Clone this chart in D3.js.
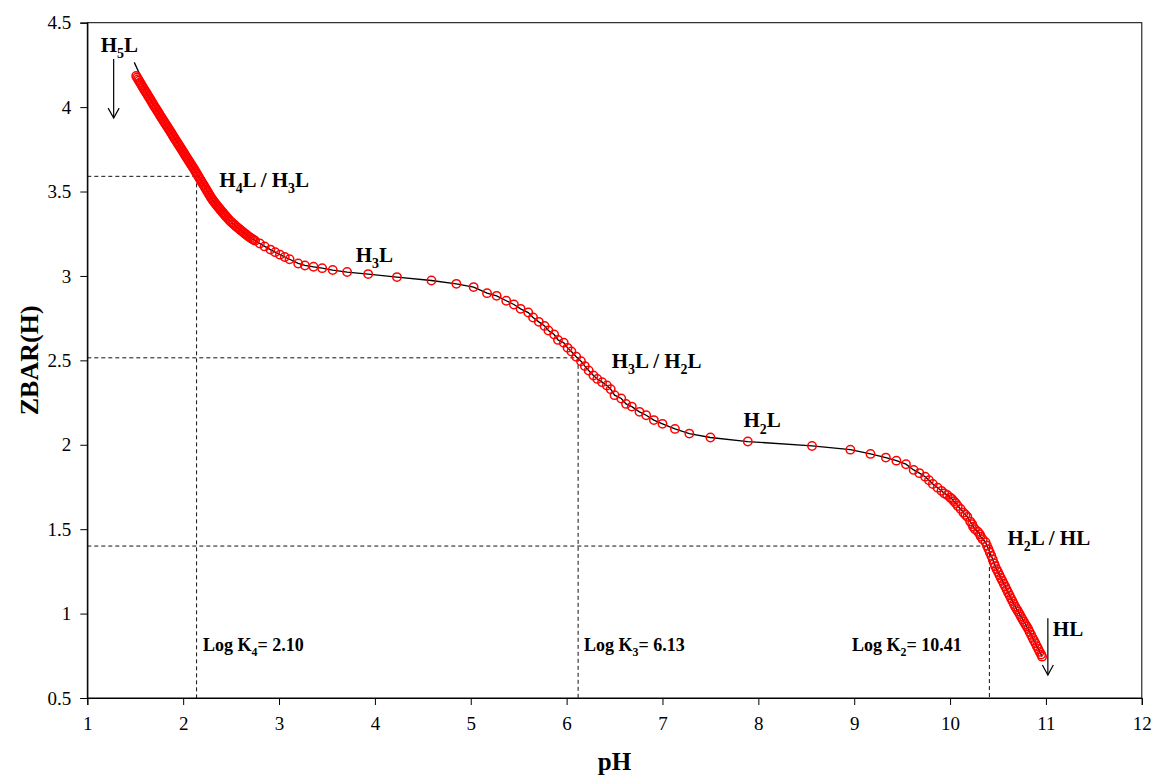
<!DOCTYPE html>
<html><head><meta charset="utf-8">
<script src="https://cdn.jsdelivr.net/npm/d3@7"></script>
<style>body{margin:0;background:#fff}svg{display:block}</style>
</head><body>
<svg id="c" width="1154" height="778"></svg>
<script>
// ---- data ----
const pH = [1.51,1.52,1.53,1.54,1.55,1.56,1.57,1.58,1.59,1.60,1.61,1.62,1.63,1.64,1.65,1.66,1.67,1.68,1.69,1.70,1.71,1.72,1.73,1.74,1.75,1.76,1.77,1.78,1.79,1.80,1.81,1.82,1.83,1.84,1.85,1.86,1.87,1.88,1.89,1.90,1.91,1.92,1.93,1.94,1.95,1.96,1.97,1.98,1.99,2.00,2.01,2.02,2.03,2.04,2.05,2.06,2.07,2.08,2.09,2.10,2.11,2.12,2.13,2.14,2.15,2.16,2.17,2.18,2.19,2.20,2.21,2.22,2.23,2.24,2.25,2.26,2.27,2.28,2.29,
  2.31,2.33,2.35,2.37,2.39,2.41,2.43,2.45,2.48,2.51,2.54,2.57,2.60,2.63,2.66,2.69,2.72,2.75,2.80,2.85,2.91,2.96,3.01,3.06,3.11,3.20,3.27,3.36,3.45,3.56,3.71,3.93,4.23,4.59,4.85,5.03,5.17,5.27,5.37,5.45,5.52,5.60,5.65,5.71,5.77,5.81,5.87,5.91,5.97,6.01,6.05,6.10,6.15,6.19,6.23,6.28,6.32,6.37,6.42,6.46,6.50,6.57,6.62,6.68,6.76,6.83,6.91,7.00,7.13,7.28,7.50,7.89,8.56,8.96,9.17,9.33,9.44,9.54,9.62,9.68,9.74,9.78,9.82,9.87,9.91,9.94,9.97,10.00,10.02,10.04,10.06,10.08,10.11,10.14,10.16,10.18,10.21,10.23,10.24,10.26,10.29,10.31,10.32,10.34,10.37,10.385,10.40,10.415,10.43,10.445,10.46,
  10.470,10.485,10.500,10.515,10.530,10.545,10.560,10.575,10.590,10.605,10.620,10.635,10.650,10.665,10.680,10.695,10.710,10.725,10.740,10.755,10.770,10.785,10.800,10.815,10.830,10.845,10.860,10.875,10.890,10.905,10.920,10.935,10.950,10.960];
const zbar = [4.184,4.175,4.165,4.156,4.146,4.137,4.127,4.118,4.108,4.099,4.090,4.080,4.071,4.062,4.052,4.043,4.033,4.024,4.014,4.005,3.996,3.987,3.978,3.969,3.960,3.951,3.942,3.933,3.924,3.915,3.906,3.897,3.888,3.879,3.870,3.861,3.852,3.843,3.834,3.825,3.816,3.807,3.798,3.789,3.780,3.771,3.762,3.753,3.744,3.735,3.726,3.717,3.708,3.699,3.690,3.681,3.672,3.663,3.654,3.645,3.636,3.627,3.617,3.608,3.598,3.589,3.579,3.570,3.560,3.551,3.541,3.532,3.522,3.513,3.503,3.494,3.484,3.475,3.465,
  3.448,3.434,3.419,3.405,3.391,3.377,3.364,3.351,3.332,3.315,3.300,3.285,3.271,3.257,3.244,3.231,3.219,3.209,3.192,3.175,3.156,3.141,3.126,3.112,3.099,3.074,3.062,3.054,3.046,3.035,3.023,3.011,2.993,2.973,2.953,2.934,2.898,2.882,2.853,2.831,2.805,2.783,2.754,2.728,2.704,2.677,2.653,2.621,2.604,2.574,2.552,2.521,2.495,2.466,2.440,2.410,2.390,2.371,2.351,2.329,2.294,2.274,2.242,2.226,2.195,2.175,2.146,2.124,2.094,2.066,2.043,2.019,1.993,1.971,1.946,1.924,1.906,1.885,1.851,1.832,1.811,1.790,1.768,1.746,1.727,1.712,1.703,1.688,1.679,1.665,1.654,1.637,1.620,1.598,1.585,1.573,1.545,1.530,1.515,1.500,1.485,1.470,1.456,1.440,1.423,1.402,1.382,1.362,1.342,1.320,1.297,
  1.280,1.263,1.246,1.228,1.211,1.194,1.177,1.160,1.143,1.125,1.108,1.091,1.074,1.057,1.041,1.026,1.012,0.997,0.982,0.967,0.952,0.937,0.923,0.908,0.891,0.874,0.857,0.841,0.824,0.807,0.790,0.773,0.757,0.745];
// extra measured points in the dense band just past the first inflection
const pHBand = [2.30,2.32,2.34,2.36,2.38,2.40,2.42,2.44,2.465,2.495,2.525,2.555,2.585,2.615,2.645,2.675,2.705,2.735];
const zbarBand = [3.457,3.441,3.426,3.412,3.398,3.384,3.371,3.358,3.341,3.323,3.307,3.292,3.278,3.264,3.250,3.237,3.225,3.214];
// leading part of the calculated curve (black line) before the first measured point
const curveStartPH = [1.49, 1.55];
const curveStartZ = [4.265, 4.19];

const xTicks = [1,2,3,4,5,6,7,8,9,10,11,12];
const yTicks = [0.5,1,1.5,2,2.5,3,3.5,4,4.5];

// log K reference lines
const logKpH = [2.14, 6.12, 10.41];
const logKZ = [3.59, 2.515, 1.40];
const logKLabels = ["Log K_4= 2.10", "Log K_3= 6.13", "Log K_2= 10.41"];
const logKLabelPH = [2.207, 6.182, 8.978];
const logKLabelZ = 0.779;

// species labels
const speciesLabels = ["H_5L", "H_4L / H_3L", "H_3L", "H_3L / H_2L", "H_2L", "H_2L / HL", "HL"];
const speciesPH = [1.14, 2.377, 3.80, 6.471, 7.844, 10.598, 11.072];
const speciesZ = [4.326, 3.526, 3.084, 2.454, 2.104, 1.407, 0.869];

// arrows [pH, Ztop, Zbottom]
const arrowPH = [1.275, 11.02];
const arrowZtop = [4.285, 0.972];
const arrowZbot = [3.935, 0.636];

// ---- layout ----
const W = 1154, H = 778;
const m = {left: 87.3, right: 12.2, top: 22.7, bottom: 80};
const svg = d3.select("#c");
const x = d3.scaleLinear().domain([1, 12]).range([m.left, W - m.right]);
const y = d3.scaleLinear().domain([0.5, 4.5]).range([H - m.bottom, m.top]);
const serif = "'Liberation Serif','Times New Roman',Times,serif";

const points = pH.map((p, i) => [p, zbar[i]])
  .concat(pHBand.map((p, i) => [p, zbarBand[i]]))
  .sort((a, b) => a[0] - b[0]);

// frame
svg.append("rect").attr("x", x(1)).attr("y", y(4.5))
  .attr("width", x(12) - x(1)).attr("height", y(0.5) - y(4.5))
  .attr("fill", "none").attr("stroke", "#000").attr("stroke-width", 1);

// axes
const xAxis = svg.append("g").attr("transform", `translate(0,${y(0.5)})`)
  .call(d3.axisBottom(x).tickValues(xTicks).tickFormat(d3.format("d")).tickSize(7).tickPadding(12));
const yAxis = svg.append("g").attr("transform", `translate(${x(1)},0)`)
  .call(d3.axisLeft(y).tickValues(yTicks).tickFormat(d => String(d)).tickSize(7).tickPadding(9));
[xAxis, yAxis].forEach(a => {
  a.select(".domain").attr("stroke", "#000").attr("stroke-width", 1.2);
  a.selectAll(".tick line").attr("stroke", "#000");
  a.selectAll(".tick text").attr("font-family", serif).attr("font-size", 19).attr("fill", "#000");
});

// axis titles
svg.append("text").attr("x", (x(1) + x(12)) / 2).attr("y", 770)
  .attr("text-anchor", "middle").attr("font-family", serif).attr("font-weight", "bold")
  .attr("font-size", 25).text("pH");
svg.append("text").attr("transform", `translate(38,${(y(0.5) + y(4.5)) / 2}) rotate(-90)`)
  .attr("text-anchor", "middle").attr("font-family", serif).attr("font-weight", "bold")
  .attr("font-size", 26).text("ZBAR(H)");

// dashed log K lines
const dash = svg.append("g").attr("stroke", "#111").attr("stroke-width", 1).attr("stroke-dasharray", "4,3").attr("fill", "none");
logKpH.forEach((p, i) => {
  dash.append("line").attr("x1", x(1)).attr("x2", x(p)).attr("y1", y(logKZ[i])).attr("y2", y(logKZ[i]));
  dash.append("line").attr("x1", x(p)).attr("x2", x(p)).attr("y1", y(logKZ[i])).attr("y2", y(0.5));
});

// black calculated curve
const curvePts = curveStartPH.map((p, i) => [p, curveStartZ[i]])
  .concat(points.filter(d => d[0] > 1.6));
svg.append("path").datum(curvePts)
  .attr("d", d3.line().x(d => x(d[0])).y(d => y(d[1])))
  .attr("fill", "none").attr("stroke", "#000").attr("stroke-width", 1.3);

// red circles
svg.append("g").selectAll("circle").data(points).join("circle")
  .attr("cx", d => x(d[0])).attr("cy", d => y(d[1])).attr("r", 4.2)
  .attr("fill", "none").attr("stroke", "#ff0000").attr("stroke-width", 1.5);

// rich text with subscripts
function rich(str, px, py, size, bold) {
  const t = svg.append("text").attr("x", px).attr("y", py)
    .attr("font-family", serif).attr("font-size", size).attr("font-weight", bold ? "bold" : "normal").attr("fill", "#000");
  const parts = str.split(/(_\d)/).filter(s => s.length);
  let shifted = false;
  const off = size * 0.3;
  parts.forEach(p => {
    if (p[0] === "_") {
      t.append("tspan").attr("dy", off).attr("font-size", size * 0.66).text(p.slice(1));
      shifted = true;
    } else {
      const ts = t.append("tspan").text(p);
      if (shifted) { ts.attr("dy", -off); shifted = false; }
    }
  });
  return t;
}
speciesLabels.forEach((s, i) => rich(s, x(speciesPH[i]), y(speciesZ[i]), 21, true));
logKLabels.forEach((s, i) => rich(s, x(logKLabelPH[i]), y(logKLabelZ), 18, true));

// arrows
const ag = svg.append("g").attr("stroke", "#000").attr("stroke-width", 1.2).attr("fill", "none");
arrowPH.forEach((p, i) => {
  const ax = x(p), y0 = y(arrowZtop[i]), y1 = y(arrowZbot[i]);
  ag.append("line").attr("x1", ax).attr("x2", ax).attr("y1", y0).attr("y2", y1);
  ag.append("path").attr("d", `M${ax - 5.5},${y1 - 10}L${ax},${y1}L${ax + 5.5},${y1 - 10}`);
});
</script>
</body></html>
